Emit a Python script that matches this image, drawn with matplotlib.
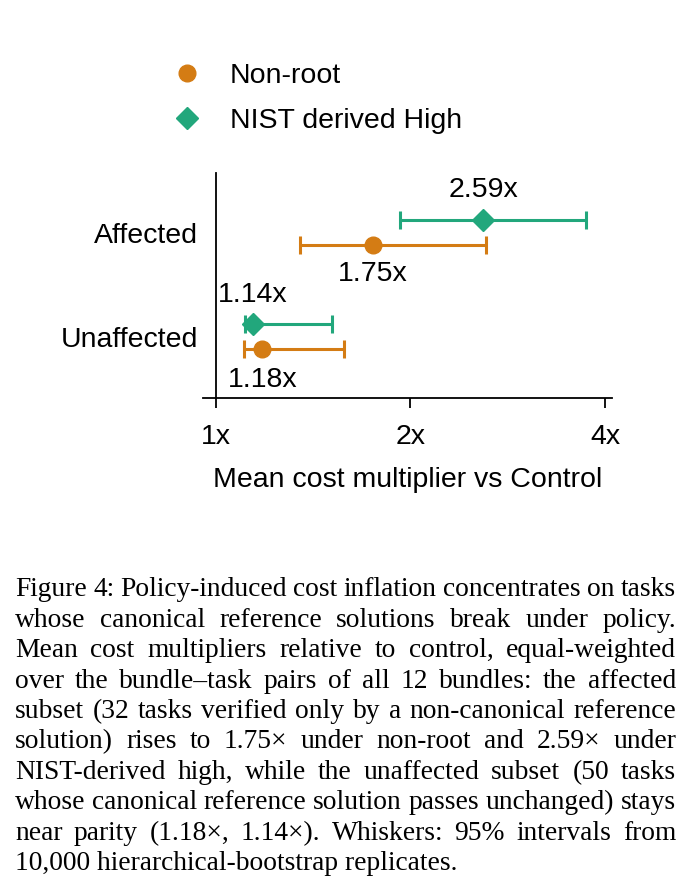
import matplotlib
matplotlib.use("Agg")
import matplotlib.pyplot as plt
from matplotlib.lines import Line2D
from matplotlib.ticker import FixedLocator, NullLocator, FixedFormatter

# ---- data ----
categories = ["Affected", "Unaffected"]
series_names = ["Non-root", "NIST derived High"]
nonroot_mean = [1.75, 1.18]
nonroot_lo = [1.35, 1.105]
nonroot_hi = [2.62, 1.58]
nist_mean = [2.59, 1.14]
nist_lo = [1.93, 1.11]
nist_hi = [3.74, 1.51]
tick_values = [1, 2, 4]
tick_labels = ["1x", "2x", "4x"]
caption_lines = [
    "Figure 4: Policy-induced cost inflation concentrates on tasks",
    "whose canonical reference solutions break under policy.",
    "Mean cost multipliers relative to control, equal-weighted",
    "over the bundle\u2013task pairs of all 12 bundles: the affected",
    "subset (32 tasks verified only by a non-canonical reference",
    "solution) rises to 1.75\u00d7 under non-root and 2.59\u00d7 under",
    "NIST-derived high, while the unaffected subset (50 tasks",
    "whose canonical reference solution passes unchanged) stays",
    "near parity (1.18\u00d7, 1.14\u00d7). Whiskers: 95% intervals from",
    "10,000 hierarchical-bootstrap replicates.",
]

ORANGE = "#d47c14"
GREEN = "#22a77c"
SANS = ["Liberation Sans", "DejaVu Sans"]
SERIF = ["Liberation Serif", "DejaVu Serif"]
FS = 20.5

W, H = 691, 886
fig = plt.figure(figsize=(W / 100, H / 100), dpi=100)

# axes box in pixels: left spine x=216 (1x), bottom y=398, top y=173
ax_left_px, ax_right_px = 203, 612
ax_top_px, ax_bot_px = 173, 398
ax = fig.add_axes([ax_left_px / W, 1 - ax_bot_px / H,
                   (ax_right_px - ax_left_px) / W, (ax_bot_px - ax_top_px) / H])
ax.set_xscale("log")
ax.set_xlim(0.955, 4.1)
ax.set_ylim(-0.59, 1.572)

ypos = [1, 0]
off = 0.12
for i in range(len(categories)):
    y_n = ypos[i] - off
    y_g = ypos[i] + off
    ax.errorbar([nonroot_mean[i]], [y_n],
                xerr=[[nonroot_mean[i] - nonroot_lo[i]], [nonroot_hi[i] - nonroot_mean[i]]],
                fmt="o", color=ORANGE, ms=12, elinewidth=2.2, capsize=6.5, capthick=2.2, zorder=3)
    ax.errorbar([nist_mean[i]], [y_g],
                xerr=[[nist_mean[i] - nist_lo[i]], [nist_hi[i] - nist_mean[i]]],
                fmt="D", color=GREEN, ms=11, elinewidth=2.2, capsize=6.5, capthick=2.2, zorder=3)

# value annotations
ax.annotate(f"{nist_mean[0]:.2f}x", (nist_mean[0], ypos[0] + off), xytext=(0, 21.5),
            textcoords="offset points", ha="center", va="center", fontsize=FS, family=SANS)
ax.annotate(f"{nonroot_mean[0]:.2f}x", (nonroot_mean[0], ypos[0] - off), xytext=(0, -20.8),
            textcoords="offset points", ha="center", va="center", fontsize=FS, family=SANS)
ax.annotate(f"{nist_mean[1]:.2f}x", (nist_mean[1], ypos[1] + off), xytext=(0, 21.3),
            textcoords="offset points", ha="center", va="center", fontsize=FS, family=SANS)
ax.annotate(f"{nonroot_mean[1]:.2f}x", (nonroot_mean[1], ypos[1] - off), xytext=(0, -22),
            textcoords="offset points", ha="center", va="center", fontsize=FS, family=SANS)

# axes styling
for s in ["top", "right"]:
    ax.spines[s].set_visible(False)
ax.spines["left"].set_position(("data", 1))
ax.spines["left"].set_linewidth(1.3)
ax.spines["bottom"].set_linewidth(1.3)
ax.xaxis.set_major_locator(FixedLocator(tick_values))
ax.xaxis.set_major_formatter(FixedFormatter(tick_labels))
ax.xaxis.set_minor_locator(NullLocator())
ax.tick_params(axis="x", length=7.5, width=1.3, labelsize=FS, pad=11, direction="out")
for lab in ax.get_xticklabels():
    lab.set_family(SANS)
ax.set_yticks(ypos)
ax.set_yticklabels(categories, family=SANS, fontsize=FS)
ax.tick_params(axis="y", length=0, pad=13)
ax.set_xlabel("Mean cost multiplier vs Control", fontsize=FS, family=SANS, labelpad=12.7)

# legend
handles = [Line2D([], [], ls="none", marker="o", color=ORANGE, ms=12),
           Line2D([], [], ls="none", marker="D", color=GREEN, ms=11)]
fig.legend(handles, series_names, loc="upper left", bbox_to_anchor=(170 / W, 1 - 63 / H),
           frameon=False, prop={"family": SANS, "size": FS}, labelspacing=0.67,
           handletextpad=0.91, handlelength=1.2, borderaxespad=0, borderpad=0)

# caption, justified
cap_fs = 19.8
left_px, right_px = 15, 676
first_y = 590
line_h = 30.4
fig.canvas.draw()
renderer = fig.canvas.get_renderer()
for li, line in enumerate(caption_lines):
    yf = 1 - (first_y + li * line_h) / H
    words = line.split(" ")
    if li == len(caption_lines) - 1 or len(words) == 1:
        fig.text(left_px / W, yf, line, fontsize=cap_fs, family=SERIF, va="center", ha="left")
        continue
    widths = []
    for w in words:
        t = fig.text(0, 0, w, fontsize=cap_fs, family=SERIF)
        widths.append(t.get_window_extent(renderer).width)
        t.remove()
    gap = (right_px - left_px - sum(widths)) / (len(words) - 1)
    x = left_px
    for w, wd in zip(words, widths):
        fig.text(x / W, yf, w, fontsize=cap_fs, family=SERIF, va="center", ha="left")
        x += wd + gap

fig.savefig("out.png", dpi=100)
